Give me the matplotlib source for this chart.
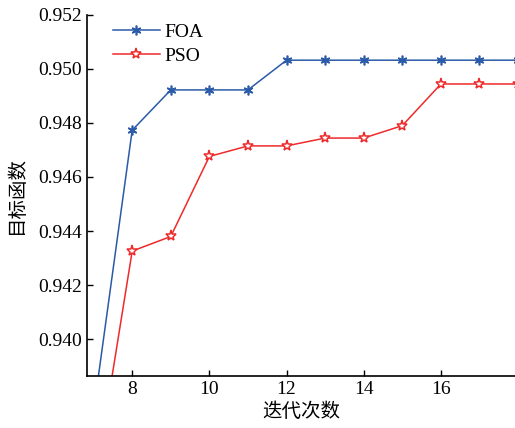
import matplotlib
matplotlib.use("Agg")
import matplotlib.pyplot as plt

iterations = [7, 8, 9, 10, 11, 12, 13, 14, 15, 16, 17, 18]
foa = [0.93734, 0.94773, 0.94922, 0.94922, 0.94922, 0.95032, 0.95032, 0.95032, 0.95032, 0.95032, 0.95032, 0.95032]
pso = [0.93438, 0.94326, 0.94380, 0.94676, 0.94715, 0.94715, 0.94744, 0.94744, 0.94790, 0.94944, 0.94944, 0.94944]
xticks = [8, 10, 12, 14, 16]
yticks = [0.940, 0.942, 0.944, 0.946, 0.948, 0.950, 0.952]

plt.rcParams['font.family'] = ['Liberation Serif', 'Noto Sans CJK SC']

fig = plt.figure(figsize=(5.15, 4.28), dpi=100)
ax = fig.add_axes([0.169, 0.1215, 0.831, 0.844])

ax.plot(iterations, foa, color='#2b5aa8', lw=1.1, marker=(6, 2, 0), ms=7,
        mew=1.2, label='FOA', clip_on=True)
ax.plot(iterations, pso, color='#ee2a2a', lw=1.1, marker='*', ms=8,
        mfc='white', mew=1.1, label='PSO', clip_on=True)

ax.set_xlim(6.83, 17.92)
ax.set_ylim(0.93864, 0.952)
ax.set_xticks(xticks)
ax.set_yticks(yticks)
ax.set_yticklabels([f"{v:.3f}" for v in yticks])
ax.tick_params(direction='in', labelsize=14, length=4, width=1)
ax.spines['top'].set_visible(False)
ax.spines['right'].set_visible(False)
ax.spines['left'].set_linewidth(1.2)
ax.spines['bottom'].set_linewidth(1.2)

ax.set_xlabel('迭代次数', fontsize=14, family=['Noto Sans CJK SC'], labelpad=2)
ax.set_ylabel('目标函数', fontsize=14, family=['Noto Sans CJK SC'], labelpad=8)

ax.legend(loc='upper left', bbox_to_anchor=(0.02, 1.025), frameon=False,
          fontsize=14, handlelength=2.4, handletextpad=0.25, labelspacing=0.35)

fig.savefig('out.png', dpi=100)
